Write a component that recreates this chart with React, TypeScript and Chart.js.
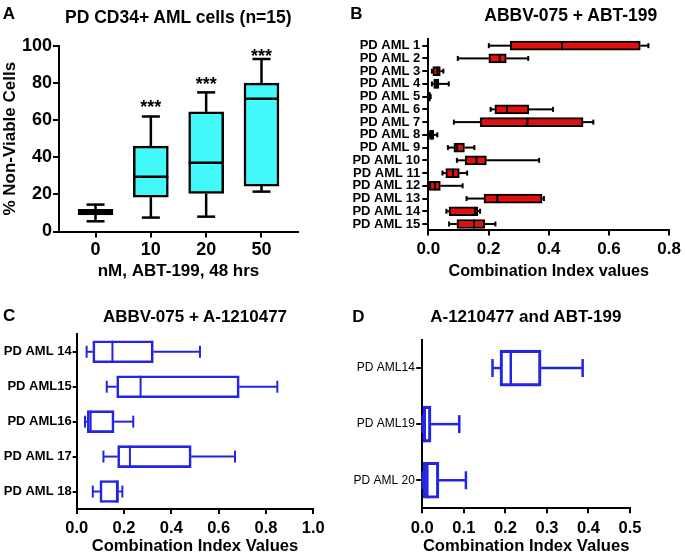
import React, { useEffect, useRef } from 'react';
import { Chart, registerables } from 'chart.js';
Chart.register(...registerables);

const FONT = 'Arial, "Liberation Sans", Helvetica, sans-serif';
const CYAN = '#42f8f8';
const RED = '#e01010';
const BLUE = '#2424e4';

// ---------- Panel A ----------
const doseLabels = ['0', '10', '20', '50'];
const aMin = [5.5, 7.5, 8, 21.5];
const aQ1 = [9, 18.5, 20.5, 24.5];
const aMed = [10.5, 29.5, 37, 71.5];
const aQ3 = [12, 46, 64.5, 80];
const aMax = [14.5, 62, 75, 93];
const aSig = ['', '***', '***', '***'];
const aSigY = [0, 69.6, 81.7, 96.9];

// ---------- Panel B ----------
const bLabels = ['PD AML 1', 'PD AML 2', 'PD AML 3', 'PD AML 4', 'PD AML 5', 'PD AML 6', 'PD AML 7', 'PD AML 8', 'PD AML 9', 'PD AML 10', 'PD AML 11', 'PD AML 12', 'PD AML 13', 'PD AML 14', 'PD AML 15'];
const bMin = [0.201, 0.098, 0.012, 0.012, 0.001, 0.207, 0.085, 0.002, 0.065, 0.095, 0.047, 0.002, 0.127, 0.06, 0.069];
const bQ1 = [0.272, 0.201, 0.015, 0.018, 0.002, 0.221, 0.172, 0.004, 0.085, 0.123, 0.058, 0.003, 0.185, 0.069, 0.095];
const bMed = [0.444, 0.237, 0.03, 0.027, 0.004, 0.261, 0.329, 0.01, 0.096, 0.16, 0.082, 0.022, 0.229, 0.155, 0.152];
const bQ3 = [0.704, 0.259, 0.04, 0.035, 0.006, 0.334, 0.514, 0.018, 0.12, 0.193, 0.103, 0.04, 0.378, 0.165, 0.188];
const bMax = [0.731, 0.332, 0.05, 0.068, 0.008, 0.414, 0.548, 0.03, 0.153, 0.368, 0.129, 0.114, 0.384, 0.172, 0.223];

// ---------- Panel C ----------
const cLabels = ['PD AML 14', 'PD AML15', 'PD AML16', 'PD AML 17', 'PD AML 18'];
const cMin = [0.042, 0.127, 0.035, 0.113, 0.068];
const cQ1 = [0.068, 0.169, 0.045, 0.173, 0.098];
const cMed = [0.151, 0.27, 0.059, 0.225, 0.17];
const cQ3 = [0.324, 0.687, 0.158, 0.484, 0.177];
const cMax = [0.521, 0.848, 0.239, 0.669, 0.193];

// ---------- Panel D ----------
const dLabels = ['PD AML14', 'PD AML19', 'PD AML 20'];
const dMin = [0.169, 0.001, 0.001];
const dQ1 = [0.187, 0.002, 0.002];
const dMed = [0.213, 0.004, 0.012];
const dQ3 = [0.286, 0.021, 0.04];
const dMax = [0.386, 0.089, 0.105];

const boxPlugin = {
  id: 'boxWhisker',
  afterDatasetsDraw(chart: any, _args: any, o: any) {
    if (!o || !o.min) return;
    const ctx = chart.ctx;
    const horiz = chart.options.indexAxis === 'y';
    const iScale = horiz ? chart.scales.y : chart.scales.x;
    const vScale = horiz ? chart.scales.x : chart.scales.y;
    const seg = (v1: number, c1: number, v2: number, c2: number) => {
      ctx.beginPath();
      if (horiz) { ctx.moveTo(v1, c1); ctx.lineTo(v2, c2); }
      else { ctx.moveTo(c1, v1); ctx.lineTo(c2, v2); }
      ctx.stroke();
    };
    ctx.save();
    ctx.lineCap = 'butt';
    for (let i = 0; i < o.min.length; i++) {
      const c = iScale.getPixelForValue(i);
      const pMin = vScale.getPixelForValue(o.min[i]);
      const pQ1 = vScale.getPixelForValue(o.q1[i]);
      const pMed = vScale.getPixelForValue(o.med[i]);
      const pQ3 = vScale.getPixelForValue(o.q3[i]);
      const pMax = vScale.getPixelForValue(o.max[i]);
      ctx.strokeStyle = o.color;
      ctx.lineWidth = o.lineWidth;
      seg(pMin, c, pQ1, c);
      seg(pQ3, c, pMax, c);
      const h = o.cap / 2;
      seg(pMin, c - h, pMin, c + h);
      seg(pMax, c - h, pMax, c + h);
      ctx.strokeStyle = o.medColor || o.color;
      ctx.lineWidth = o.medWidth;
      const b = o.box / 2;
      seg(pMed, c - b, pMed, c + b);
      if (o.sig && o.sig[i]) {
        ctx.fillStyle = '#000';
        ctx.font = 'bold 18px ' + FONT;
        ctx.textAlign = 'center';
        ctx.textBaseline = 'alphabetic';
        ctx.fillText(o.sig[i], c, vScale.getPixelForValue(o.sigY[i]) + 10.3);
      }
    }
    ctx.restore();
  },
};

const axisCommon = (tickLen: number, pad: number, size: number, weight: string) => ({
  grid: { drawOnChartArea: false, tickLength: tickLen, color: '#000', lineWidth: 2, offset: false },
  border: { color: '#000', width: 2 },
  ticks: { color: '#000', padding: pad, font: { family: FONT, size, weight }, autoSkip: false, maxRotation: 0 },
});

function hConfig(p: any) {
  const xa: any = axisCommon(5, p.xPad, p.xFont, 'bold');
  xa.min = 0; xa.max = p.xMax; xa.type = 'linear';
  xa.ticks.stepSize = p.xStep;
  xa.ticks.callback = (v: number) => Number(v).toFixed(1);
  xa.title = { display: true, text: p.xTitle, color: '#000', padding: 0, font: { family: FONT, size: p.xTitleSize, weight: 'bold' } };
  xa.afterFit = (s: any) => { s.height = p.xH; };
  const ya: any = axisCommon(p.yTick, p.yPad, p.yFont, p.yWeight);
  ya.type = 'category';
  ya.offset = true;
  ya.afterFit = (s: any) => { s.width = p.yW; };
  return {
    type: 'bar',
    data: {
      labels: p.labels,
      datasets: [{
        data: p.labels.map((_: any, i: number) => [p.q1[i], p.q3[i]]),
        backgroundColor: p.fill,
        borderColor: p.border,
        borderWidth: p.bw,
        borderSkipped: false,
        barThickness: p.thick,
      }],
    },
    options: {
      indexAxis: 'y',
      animation: false,
      responsive: false,
      devicePixelRatio: 1,
      layout: { padding: { top: p.top, right: p.right, left: 0, bottom: 0 } },
      plugins: {
        legend: { display: false },
        tooltip: { enabled: false },
        boxWhisker: { min: p.min, q1: p.q1, med: p.med, q3: p.q3, max: p.max, color: p.wColor, lineWidth: p.wWidth, cap: p.cap, box: p.thick, medWidth: p.medWidth, medColor: p.medColor },
      },
      scales: { x: xa, y: ya },
    },
    plugins: [boxPlugin],
  };
}

function aConfig() {
  const xa: any = axisCommon(6, 2, 18, 'bold');
  xa.type = 'linear'; xa.min = -0.66; xa.max = 3.66; xa.offset = false;
  xa.afterBuildTicks = (s: any) => { s.ticks = doseLabels.map((_, i) => ({ value: i })); };
  xa.ticks.callback = (v: number) => doseLabels[v] ?? '';
  xa.title = { display: true, text: 'nM, ABT-199, 48 hrs', color: '#000', padding: 0, font: { family: FONT, size: 17, weight: 'bold' } };
  xa.afterFit = (s: any) => { s.height = 50.5; };
  const ya: any = axisCommon(6, 1, 18, 'bold');
  ya.min = 0; ya.max = 100; ya.ticks.stepSize = 20;
  ya.title = { display: true, text: '% Non-Viable Cells', color: '#000', padding: 0, font: { family: FONT, size: 17, weight: 'bold' } };
  ya.afterFit = (s: any) => { s.width = 59; };
  return {
    type: 'bar',
    data: {
      datasets: [{
        data: doseLabels.map((_, i) => ({ x: i, y: [aQ1[i], aQ3[i]] })),
        backgroundColor: CYAN,
        borderColor: '#000',
        borderWidth: 2.5,
        borderSkipped: false,
        barThickness: 35,
      }],
    },
    options: {
      animation: false,
      responsive: false,
      devicePixelRatio: 1,
      layout: { padding: { top: 46, right: 22, left: 0, bottom: 0 } },
      plugins: {
        legend: { display: false },
        tooltip: { enabled: false },
        boxWhisker: { min: aMin, q1: aQ1, med: aMed, q3: aQ3, max: aMax, color: '#000', lineWidth: 2.5, cap: 18, box: 35, medWidth: 2.5, sig: aSig, sigY: aSigY },
      },
      scales: { x: xa, y: ya },
    },
    plugins: [boxPlugin],
  };
}

function ChartCanvas({ make, left, top, width, height }: any) {
  const ref = useRef<HTMLCanvasElement>(null);
  useEffect(() => {
    const chart = new Chart(ref.current as HTMLCanvasElement, make() as any);
    return () => chart.destroy();
  }, []);
  return <canvas ref={ref} width={width} height={height} style={{ position: 'absolute', left, top, width, height }} />;
}

function Label({ x, y, text, size, weight = 'bold' }: any) {
  return (
    <div style={{ position: 'absolute', left: x, top: y, transform: 'translate(-50%, -50%)', fontFamily: FONT, fontSize: size, fontWeight: weight as any, lineHeight: 1, whiteSpace: 'nowrap', color: '#000' }}>{text}</div>
  );
}

export default function App() {
  return (
    <div style={{ position: 'fixed', left: 0, top: 0, width: 685, height: 555, background: '#fff', overflow: 'hidden' }}>
      <ChartCanvas make={aConfig} left={0} top={0} width={320} height={282} />
      <ChartCanvas
        make={() => hConfig({
          labels: bLabels, min: bMin, q1: bQ1, med: bMed, q3: bQ3, max: bMax,
          xMax: 0.8, xStep: 0.2, xTitle: 'Combination Index values', xTitleSize: 16.2, xFont: 17, xPad: 4, xH: 50.6,
          yW: 88.3, yTick: 6, yPad: 2, yFont: 13, yWeight: 'bold',
          top: 39.3, right: 11.7, fill: RED, border: '#000', bw: 2, thick: 9,
          wColor: '#000', wWidth: 2, cap: 5, medWidth: 2, medColor: '#000',
        })}
        left={340} top={0} width={345} height={281} />
      <ChartCanvas
        make={() => hConfig({
          labels: cLabels, min: cMin, q1: cQ1, med: cMed, q3: cQ3, max: cMax,
          xMax: 1.0, xStep: 0.2, xTitle: 'Combination Index Values', xTitleSize: 16.6, xFont: 16.5, xPad: 5, xH: 47,
          yW: 76.7, yTick: 4, yPad: 1, yFont: 13, yWeight: 'bold',
          top: 54.3, right: 26.7, fill: 'rgba(0,0,0,0)', border: BLUE, bw: 2, thick: 22,
          wColor: BLUE, wWidth: 2, cap: 12, medWidth: 2, medColor: BLUE,
        })}
        left={0} top={280} width={340} height={276} />
      <ChartCanvas
        make={() => hConfig({
          labels: dLabels, min: dMin, q1: dQ1, med: dMed, q3: dQ3, max: dMax,
          xMax: 0.5, xStep: 0.1, xTitle: 'Combination Index Values', xTitleSize: 16.6, xFont: 16.5, xPad: 5, xH: 47.7,
          yW: 82.3, yTick: 6, yPad: 1.5, yFont: 12, yWeight: 'normal',
          top: 60, right: 55, fill: 'rgba(0,0,0,0)', border: BLUE, bw: 2.5, thick: 36,
          wColor: BLUE, wWidth: 2.5, cap: 18, medWidth: 2.5, medColor: BLUE,
        })}
        left={340} top={280} width={345} height={276} />
      <Label x={8.8} y={12.5} text="A" size={17} />
      <Label x={356.5} y={12.5} text="B" size={17} />
      <Label x={9.2} y={315} text="C" size={17} />
      <Label x={358.3} y={315.5} text="D" size={17} />
      <Label x={178.3} y={17.5} text="PD CD34+ AML cells (n=15)" size={17.5} />
      <Label x={570.8} y={15.8} text="ABBV-075 + ABT-199" size={17.5} />
      <Label x={195} y={316.3} text="ABBV-075 + A-1210477" size={17} />
      <Label x={525.8} y={316.3} text="A-1210477 and ABT-199" size={17} />
    </div>
  );
}
